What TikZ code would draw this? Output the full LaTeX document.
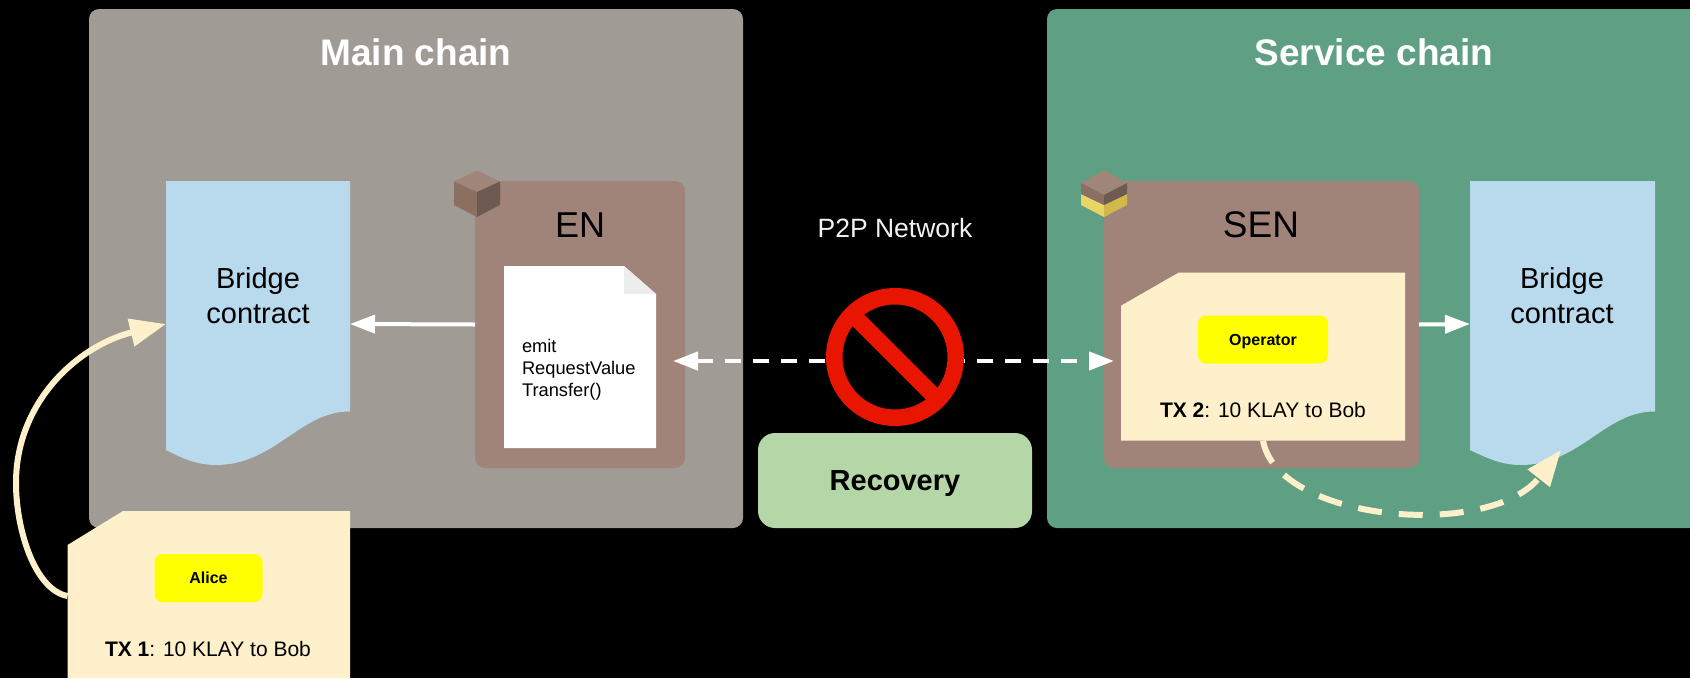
\documentclass[tikz,border=0pt]{standalone}
\usepackage{fontspec}
\setmainfont{Liberation Sans}
\usetikzlibrary{arrows.meta}

\definecolor{mainfill}{HTML}{A09B94}
\definecolor{servicefill}{HTML}{5F9F83}
\definecolor{nodefill}{HTML}{A18479}
\definecolor{bridgefill}{HTML}{B9D9ED}
\definecolor{txfill}{HTML}{FFF0CC}
\definecolor{namefill}{HTML}{FFFF00}
\definecolor{recoveryfill}{HTML}{B5D6A7}
\definecolor{stopred}{HTML}{E81500}
\definecolor{cubetop}{HTML}{A08679}
\definecolor{cubeleft}{HTML}{8B7062}
\definecolor{cuberight}{HTML}{6E5A50}
\definecolor{goldleft}{HTML}{E9D565}
\definecolor{goldright}{HTML}{D2B848}

\tikzset{
  panel/.style={inner sep=0pt, outer sep=0pt, rounded corners=10pt},
  ghost/.style={inner sep=0pt, outer sep=0pt},
  titletext/.style={text=white, font=\fontsize{37}{44}\selectfont\bfseries},
  nodetext/.style={font=\fontsize{36}{42}\selectfont},
  bridgetext/.style={align=center, font=\fontsize{29}{35}\selectfont},
  txtext/.style={font=\fontsize{21}{26}\selectfont},
  whoname/.style={panel, rounded corners=8pt, fill=namefill, minimum width=108pt, minimum height=48pt, text height=11.5pt, text depth=0pt, font=\fontsize{16}{19}\selectfont\bfseries},
  whitearrow/.style={draw=white, line width=4pt, -{Triangle[length=25pt,width=18pt]}},
  p2parrow/.style={draw=white, line width=4.5pt, dash pattern=on 16pt off 12pt, {Triangle[length=25pt,width=18pt]}-{Triangle[length=25pt,width=18pt]}},
  txarrow/.style={draw=txfill, line width=6pt, -{Triangle[length=36pt,width=27pt]}}
}

\begin{document}
\begin{tikzpicture}[x=1pt, y=-1pt]
  \useasboundingbox (0,0) rectangle (1690,678);
  \fill[black] (0,0) rectangle (1690,678);
  \clip (0,0) rectangle (1690,678);

  % chains
  \node[panel, fill=mainfill, minimum width=654pt, minimum height=519pt] (mainchain) at (416,268.5) {};
  \node[panel, fill=servicefill, minimum width=673pt, minimum height=519pt] (servicechain) at (1383.5,268.5) {};
  \node[titletext] (maintitle) at (416,52) {Main chain};
  \node[titletext] (servicetitle) at (1374,52) {Service chain};

  % bridge contracts
  \node[ghost, minimum width=184pt, minimum height=286pt] (bridgeleft) at (258,324) {};
  \fill[bridgefill] (166,181) -- (350,181) -- (350,411.5) .. controls (300,411) and (275,465) .. (216,465) .. controls (195,465) and (180,457) .. (166,450) -- cycle;
  \node[bridgetext] (bridgelefttext) at (258,296) {Bridge\\contract};
  \node[ghost, minimum width=185pt, minimum height=286pt] (bridgeright) at (1562.5,324) {};
  \fill[bridgefill] (1470,181) -- (1655,181) -- (1655,411.5) .. controls (1605,411) and (1580,465) .. (1521,465) .. controls (1500,465) and (1485,457) .. (1470,450) -- cycle;
  \node[bridgetext] (bridgerighttext) at (1562,296) {Bridge\\contract};
  \coordinate (bridgerightin) at (1561,450);

  % EN
  \node[panel, fill=nodefill, minimum width=210pt, minimum height=287pt] (enbox) at (580,324.5) {};
  \node[nodetext] (entext) at (580,225) {EN};
  \fill[white] (504,266) -- (624,266) -- (656,294) -- (656,448) -- (504,448) -- cycle;
  \fill[black!7] (624,266) -- (656,294) -- (624,294) -- cycle;
  \node[anchor=west, align=left, ghost, font=\fontsize{18.3}{22}\selectfont] (emittext) at (522,369.5) {emit\\RequestValue\\Transfer()};
  \fill[cubetop] (477,170.5) -- (500,181.5) -- (477,192) -- (454,181.5) -- cycle;
  \fill[cubeleft] (454,181.5) -- (477,192) -- (477,217) -- (454,205) -- cycle;
  \fill[cuberight] (500,181.5) -- (477,192) -- (477,217) -- (500,205) -- cycle;

  % SEN
  \node[panel, fill=nodefill, minimum width=315pt, minimum height=287pt] (senbox) at (1261.5,324.5) {};
  \node[nodetext, font=\fontsize{37}{42}\selectfont] (sentext) at (1261,225) {SEN};
  \node[ghost, minimum width=284pt, minimum height=168pt] (sendoc) at (1263,356.7) {};
  \fill[txfill] (1178.5,272.7) -- (1405,272.7) -- (1405,440.7) -- (1121,440.7) -- (1121,305.7) -- cycle;
  \node[whoname, minimum width=130pt] (operator) at (1263,339.5) {Operator};
  \node[txtext] (txtwo) at (1263,410) {\textbf{TX 2}: 10 KLAY to Bob};
  \fill[goldleft] (1081,194) -- (1104,205) -- (1104,217) -- (1081,205) -- cycle;
  \fill[goldright] (1127,194) -- (1104,205) -- (1104,217) -- (1127,205) -- cycle;
  \fill[cubetop] (1104,170) -- (1127,183) -- (1104,195) -- (1081,183) -- cycle;
  \fill[cubeleft] (1081,183) -- (1104,195) -- (1104,205) -- (1081,194) -- cycle;
  \fill[cuberight] (1127,183) -- (1104,195) -- (1104,205) -- (1127,194) -- cycle;

  % p2p
  \node[text=black!5, font=\fontsize{26.5}{31}\selectfont] (p2ptext) at (895,228) {P2P Network};
  \coordinate (entip) at (673,361);
  \coordinate (sentip) at (1114,361);
  \draw[p2parrow] (entip) -- (sentip);
  \node[ghost, circle, fill=black, draw=stopred, line width=16.5pt, minimum size=121.5pt] (noentry) at (895,357) {};
  \draw[stopred, line width=16.5pt] (noentry.135) -- (noentry.-45);
  \node[panel, rounded corners=17pt, fill=recoveryfill, minimum width=274pt, minimum height=95pt, text depth=0pt, font=\fontsize{29}{35}\selectfont\bfseries] (recovery) at (895,480.5) {Recovery};

  % alice
  \fill[txfill] (123,511) -- (350,511) -- (350,678) -- (67.5,678) -- (67.5,545) -- cycle;
  \node[whoname] (alice) at (208.5,578) {Alice};
  \node[txtext] (txone) at (208,649) {\textbf{TX 1}: 10 KLAY to Bob};
  \coordinate (aliceout) at (67.5,596);

  % transfers
  \draw[whitearrow] (enbox.west) -- (bridgeleft.east);
  \draw[whitearrow] (senbox.east) -- (bridgeright.west);
  \draw[txarrow] (aliceout) .. controls (35,590) and (16,530) .. (16,483) .. controls (16,400) and (80,345) .. (bridgeleft.west);
  \draw[txarrow, dash pattern=on 24pt off 17pt] (sendoc.south) .. controls (1278,522) and (1490,540) .. (bridgerightin);
\end{tikzpicture}
\end{document}
